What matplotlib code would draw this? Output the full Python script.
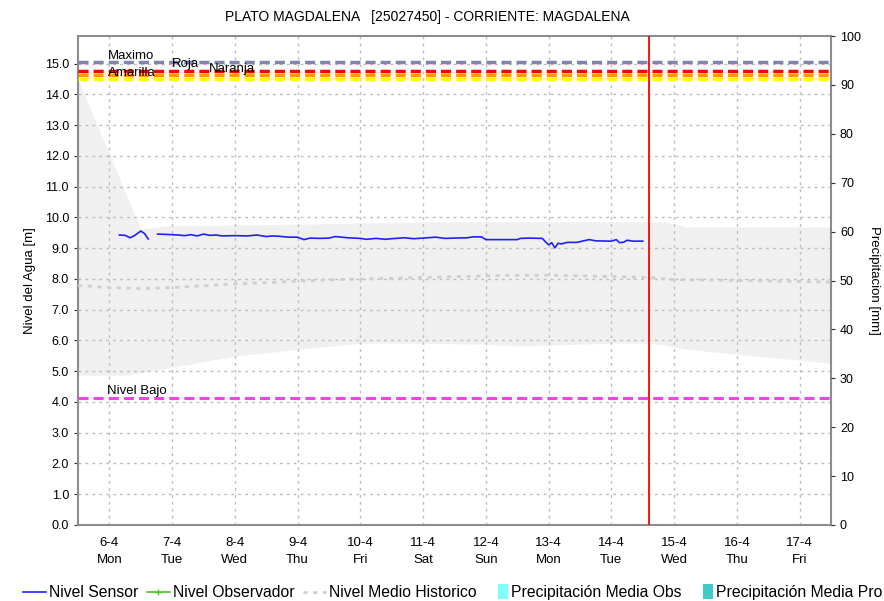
import numpy as np
import matplotlib
matplotlib.use("Agg")
import matplotlib.pyplot as plt
from matplotlib.lines import Line2D
from matplotlib.patches import Patch, Rectangle
from matplotlib.legend_handler import HandlerPatch

plt.rcParams['font.family'] = ['Liberation Sans', 'DejaVu Sans']

# x in days of April
days = [6, 7, 8, 9, 10, 11, 12, 13, 14, 15, 16, 17]
day_names = ["Mon", "Tue", "Wed", "Thu", "Fri", "Sat", "Sun", "Mon", "Tue", "Wed", "Thu", "Fri"]

# nivel sensor
sensor_t = [6.16, 6.25, 6.33, 6.40, 6.50, 6.56, 6.62, 6.64, 6.68, 6.70, 6.77, 6.9, 7.0, 7.1,
            7.2, 7.3, 7.4, 7.5, 7.6, 7.7, 7.8, 8.0, 8.2, 8.35, 8.5, 8.6, 8.7, 8.85, 9.0,
            9.1, 9.2, 9.35, 9.5, 9.6, 9.8, 10.0, 10.1, 10.25, 10.4, 10.5, 10.7, 10.85,
            11.0, 11.2, 11.35, 11.5, 11.7, 11.8, 11.93, 12.0, 12.3, 12.5, 12.55, 12.7,
            12.9, 12.95, 13.0, 13.05, 13.1, 13.15, 13.2, 13.3, 13.45, 13.6, 13.65, 13.75,
            14.0, 14.08, 14.13, 14.2, 14.25, 14.35, 14.5]
sensor_v = [9.43, 9.42, 9.34, 9.41, 9.56, 9.48, 9.30, np.nan, 9.51, np.nan, 9.46, 9.45, 9.44,
            9.43, 9.41, 9.44, 9.40, 9.46, 9.42, 9.43, 9.40, 9.41, 9.40, 9.43, 9.38, 9.40,
            9.39, 9.36, 9.36, 9.28, 9.33, 9.32, 9.33, 9.38, 9.34, 9.32, 9.29, 9.32, 9.29,
            9.31, 9.34, 9.31, 9.33, 9.36, 9.32, 9.33, 9.34, 9.37, 9.37, 9.28, 9.28, 9.28,
            9.32, 9.33, 9.32, 9.21, 9.11, 9.18, 9.01, 9.16, 9.14, 9.19, 9.19, 9.26, 9.28,
            9.24, 9.23, 9.28, 9.18, 9.20, 9.26, 9.23, 9.23]

# banda historica (min / max)
band_t = [5.5, 6.3, 6.5, 7.0, 8.0, 9.0, 10.0, 11.0, 12.0, 12.5, 13.0, 14.0, 14.6, 14.85,
          15.2, 16.0, 17.0, 17.5]
band_hi = [14.5, 10.6, 9.62, 9.74, 9.76, 9.78, 9.82, 9.85, 9.86, 9.86, 9.86, 9.86, 9.86,
           9.86, 9.69, 9.69, 9.69, 9.69]
band_lo = [4.87, 4.87, 4.95, 5.13, 5.49, 5.71, 5.91, 5.91, 5.88, 5.82, 5.85, 5.91, 5.91,
           5.85, 5.72, 5.55, 5.36, 5.26]

# nivel medio historico
mean_t = [5.5, 6.0, 6.5, 7.0, 7.5, 8.0, 8.5, 9.0, 9.5, 10.0, 11.0, 12.0, 12.5, 13.0, 14.0,
          14.6, 15.0, 16.0, 17.0, 17.5]
mean_v = [7.79, 7.72, 7.69, 7.72, 7.78, 7.84, 7.88, 7.93, 7.97, 8.0, 8.05, 8.1, 8.12, 8.12,
          8.08, 8.05, 7.98, 7.95, 7.92, 7.9]

# umbrales
thr_names = ["Maximo", "Roja", "Naranja", "Amarilla"]
thr_values = [15.07, 14.75, 14.63, 14.5]
thr_colors = ["#7f86ad", "#ff0000", "#ff9900", "#ffff00"]
nivel_bajo = 4.12
now_day = 14.6


class NarrowPatch(HandlerPatch):
    def create_artists(self, legend, orig_handle, xdescent, ydescent, width, height,
                       fontsize, trans):
        w = 0.45 * width
        p = Rectangle((width - w - xdescent, -ydescent - 0.15 * height), w, 1.3 * height,
                      facecolor=orig_handle.get_facecolor(), edgecolor="none",
                      transform=trans)
        return [p]


fig = plt.figure(figsize=(8.84, 6.01), dpi=100)
ax = fig.add_axes([0.0882, 0.1265, 0.8518, 0.8135])

ax.fill_between(band_t, band_lo, band_hi, color="#f0f0f0", lw=0, zorder=1)

ax.set_xlim(5.5, 17.5)
ax.set_ylim(0, 15.9)
ax.set_xticks(days)
ax.set_xticklabels([f"{d}-4\n{n}" for d, n in zip(days, day_names)], fontsize=9.5,
                   linespacing=1.45)
ax.set_yticks(np.arange(0, 16, 1.0))
ax.set_yticklabels([f"{v:.1f}" for v in np.arange(0, 16, 1.0)], fontsize=9)
ax.grid(True, color="#bdbdbd", linestyle=(0, (2, 3)), lw=1, zorder=2)
ax.tick_params(axis="x", length=0, pad=9)
ax.tick_params(axis="y", length=3, color="#333333")

ax.plot(mean_t, mean_v, color="#cfcfcf", lw=2, linestyle=(0, (1.5, 2)), zorder=3)
ax.plot(sensor_t, sensor_v, color="#2020ff", lw=1.2, zorder=5)

for v, c in zip(thr_values, thr_colors):
    ax.axhline(v, color=c, lw=2.5, linestyle=(0, (2.9, 1.45)), zorder=4)
ax.axhline(nivel_bajo, color="#ee44ee", lw=2.2, linestyle=(0, (3.3, 1.65)), zorder=4)
ax.axvline(now_day, color="#ff0000", lw=1.3, zorder=6)

lab_pos = [(5.98, 15.25), (7.0, 15.0), (7.58, 14.84), (5.98, 14.7)]
for name, (x, y) in zip(thr_names, lab_pos):
    ax.text(x, y, name, fontsize=9.5, va="center", zorder=7)
ax.text(5.97, nivel_bajo + 0.05, "Nivel Bajo", fontsize=9.5, va="bottom", zorder=7)

for s in ax.spines.values():
    s.set_color("#8c8c8c")
    s.set_linewidth(1.5)

ax.set_ylabel("Nivel del Agua [m]", fontsize=9.5, labelpad=6)
fig.text(0.484, 0.972, "PLATO MAGDALENA   [25027450] - CORRIENTE: MAGDALENA",
         fontsize=10, ha="center", va="center")

ax2 = ax.twinx()
ax2.set_ylim(0, 100)
ax2.set_yticks(np.arange(0, 101, 10))
ax2.tick_params(axis="y", labelsize=9, length=3, color="#333333")
ax2.set_ylabel("Precipitacion [mm]", fontsize=9.5, rotation=270, labelpad=14)
for s in ax2.spines.values():
    s.set_visible(False)

handles = [
    Line2D([], [], color="#2020ff", lw=1.2),
    Line2D([], [], color="#44cc22", lw=1.2, marker="+", markersize=5),
    Line2D([], [], color="#cfcfcf", lw=2, linestyle=(0, (1.5, 2))),
    Patch(facecolor="#80ffff", edgecolor="none"),
    Patch(facecolor="#40c8c8", edgecolor="none"),
]
labels = ["Nivel Sensor", "Nivel Observador", "Nivel Medio Historico",
          "Precipitación Media Obs", "Precipitación Media Pro"]
fig.legend(handles, labels, loc="lower left", bbox_to_anchor=(0.010, -0.022), ncol=5,
           frameon=False, fontsize=11.3, handlelength=1.45, handletextpad=0.2,
           columnspacing=0.55, handler_map={Patch: NarrowPatch()})

fig.savefig("out.png", dpi=100)
